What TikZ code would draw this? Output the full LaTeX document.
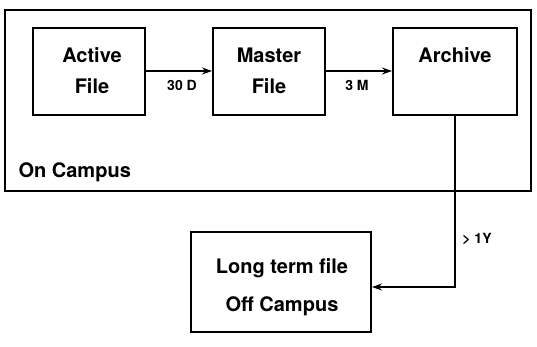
\documentclass[tikz,border=0pt]{standalone}
\usepackage{fontspec}
\setmainfont{TeX Gyre Heros}
\usetikzlibrary{arrows.meta}
\begin{document}
\begin{tikzpicture}[x=1pt,y=-1pt,
  box/.style={draw,line width=2pt,inner sep=0pt},
  lbl/.style={font=\bfseries\fontsize{20}{24}\selectfont},
  small/.style={font=\bfseries\fontsize{14}{16}\selectfont},
  conn/.style={line width=2pt,-{Stealth[length=10pt,width=7pt]}}]
\useasboundingbox (0,0) rectangle (537,346);
\node[box,minimum width=526pt,minimum height=181pt] (campus) at (268,100.5) {};
\node[box,minimum width=112pt,minimum height=87pt] (active) at (89,71.5) {};
\node[box,minimum width=112pt,minimum height=87pt] (master) at (269,71.5) {};
\node[box,minimum width=124pt,minimum height=87pt] (archive) at (455,71.5) {};
\node[box,minimum width=180pt,minimum height=100pt] (longterm) at (281,282) {};
\node[lbl] (a1) at (92,55) {Active};
\node[lbl] (a2) at (92,86) {File};
\node[lbl] (m1) at (269,55) {Master};
\node[lbl] (m2) at (269,86) {File};
\node[lbl] (ar) at (455,55) {Archive};
\node[lbl,anchor=west] (oc) at (15,172) {On Campus};
\node[lbl] (lt) at (282,268) {Long term file};
\node[lbl] (ofc) at (282,306) {Off Campus};
\node[small] (d30) at (182,85) {30 D};
\node[small] (m3) at (357,85) {3 M};
\node[small] (y1) at (477,239) {> 1Y};
\draw[conn] (active.east |- 0,71) -- (master.west |- 0,71);
\draw[conn] (master.east |- 0,71) -- (archive.west |- 0,71);
\coordinate (turn) at (archive.south |- 0,287);
\draw[conn] (archive.south) -- (turn) -- (longterm.east |- turn);
\end{tikzpicture}
\end{document}
